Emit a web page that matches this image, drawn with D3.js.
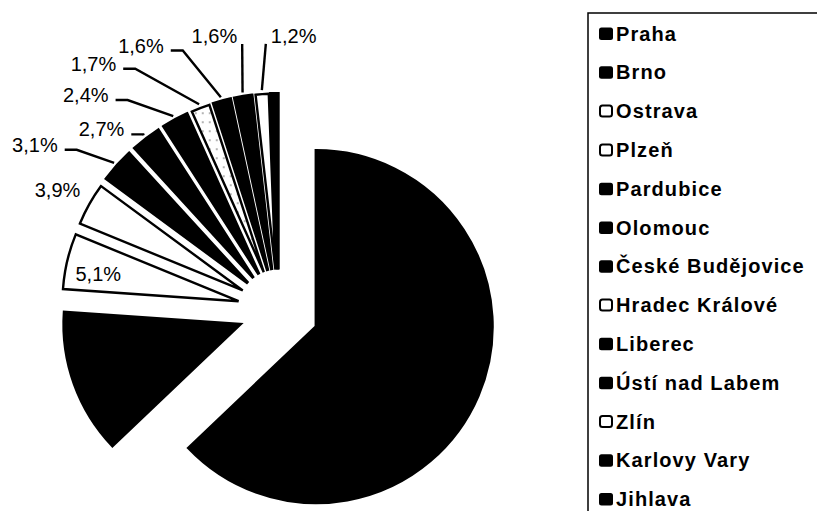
<!DOCTYPE html>
<html>
<head>
<meta charset="utf-8">
<script src="https://cdn.jsdelivr.net/npm/d3@7"></script>
<style>
  body { margin: 0; background: #fff; }
  svg { display: block; }
</style>
</head>
<body>
<svg id="chart"></svg>
<script>
// data (shares in %)
const cities = ["Praha", "Brno", "Ostrava", "Plzeň", "Pardubice", "Olomouc", "České Budějovice",
  "Hradec Králové", "Liberec", "Ústí nad Labem", "Zlín", "Karlovy Vary", "Jihlava"];
const shares = [62.9, 13.2, 5.1, 3.9, 3.1, 2.7, 2.4, 1.7, 1.6, 1.6, 1.2, 0.3, 0.3];
const fills = ["black", "black", "white", "white", "black", "black", "black",
  "dots", "black", "black", "white", "black", "black"];
const labelTexts = ["", "", "5,1%", "3,9%", "3,1%", "2,7%", "2,4%", "1,7%", "1,6%", "1,6%", "1,2%", "", ""];

// where the data labels sit, relative to each slice (angle shift in degrees, distance from centre)
const labelLayout = {
  "Ostrava": { type: "inside", dA: -2, R: 143 },
  "Plzeň": { type: "plain", dA: 0, R: 217 },
  "Pardubice": { type: "left", dA: -3.4, R: 258 },
  "Olomouc": { type: "left", dA: 0.1, R: 222 },
  "České Budějovice": { type: "left", dA: -7.2, R: 259 },
  "Hradec Králové": { type: "left", dA: -9.6, R: 281 },
  "Liberec": { type: "left", dA: -5.1, R: 277 },
  "Ústí nad Labem": { type: "upLeft", dA: 1.6, R: 269 },
  "Zlín": { type: "upRight", dA: 1.6, R: 267 }
};

const width = 817, height = 511;
const cx = 278.5, cy = 310.5, radius = 176, explode = 41;

const svg = d3.select("#chart").attr("width", width).attr("height", height);

const data = cities.map((c, i) => ({ city: c, value: shares[i], fill: fills[i], label: labelTexts[i] }));

const pie = d3.pie().value(d => d.value).sort(null);
const arc = d3.arc().innerRadius(0).outerRadius(radius);
const arcs = pie(data);

const dir = a => [Math.sin(a), -Math.cos(a)];
const mid = d => (d.startAngle + d.endAngle) / 2;
const toRad = deg => deg * Math.PI / 180;

// speckled fill for Hradec Králové
const defs = svg.append("defs");
const pat = defs.append("pattern").attr("id", "dots")
  .attr("patternUnits", "userSpaceOnUse").attr("width", 7).attr("height", 9);
pat.append("rect").attr("width", 7).attr("height", 9).attr("fill", "white");
pat.append("circle").attr("cx", 2).attr("cy", 3).attr("r", 0.8).attr("fill", "#555");
const fillOf = f => f === "dots" ? "url(#dots)" : f;

const g = svg.append("g").attr("transform", `translate(${cx},${cy})`);

// exploded slices
g.selectAll("path.slice")
  .data(arcs)
  .enter()
  .append("path")
  .attr("class", "slice")
  .attr("transform", d => {
    const [ux, uy] = dir(mid(d));
    return `translate(${ux * explode},${uy * explode})`;
  })
  .attr("d", arc)
  .attr("fill", d => fillOf(d.data.fill))
  .attr("stroke", "black")
  .attr("stroke-width", d => d.data.fill === "black" ? 3.2 : 2.4);

// data labels + leader lines
const labels = g.append("g")
  .attr("font-family", "'Liberation Sans', Arial, sans-serif")
  .attr("font-size", 20)
  .attr("fill", "black");

arcs.filter(d => d.data.label).forEach(d => {
  const L = labelLayout[d.data.city];
  const m = mid(d);

  if (L.type === "inside") {
    const [ox, oy] = dir(m).map(v => v * explode);
    const [lx, ly] = dir(m + toRad(L.dA)).map(v => v * L.R);
    labels.append("text")
      .attr("x", ox + lx).attr("y", oy + ly)
      .attr("dy", "0.35em")
      .attr("text-anchor", "middle")
      .text(d.data.label);
    return;
  }

  const [ex, ey] = dir(m + toRad(L.dA)).map(v => v * L.R);
  const [sx, sy] = dir(m).map(v => v * (explode + radius + 4));

  if (L.type === "plain") {
    labels.append("text").attr("x", ex - 9).attr("y", ey - 7)
      .attr("text-anchor", "end").text(d.data.label);
  } else if (L.type === "left") {
    labels.append("polyline")
      .attr("points", [[ex - 12, ey], [ex, ey], [sx, sy]].join(" "))
      .attr("fill", "none").attr("stroke", "black").attr("stroke-width", 2.4);
    labels.append("text").attr("x", ex - 19).attr("y", ey + 2)
      .attr("text-anchor", "end").text(d.data.label);
  } else {
    labels.append("line")
      .attr("x1", ex).attr("y1", ey).attr("x2", sx).attr("y2", sy)
      .attr("stroke", "black").attr("stroke-width", 2.4);
    labels.append("text")
      .attr("x", L.type === "upLeft" ? ex - 5 : ex + 5)
      .attr("y", ey - 1)
      .attr("text-anchor", L.type === "upLeft" ? "end" : "start")
      .text(d.data.label);
  }
});

// legend
const legend = svg.append("g");
legend.append("rect")
  .attr("x", 588).attr("y", 13).attr("width", 260).attr("height", 520)
  .attr("fill", "none").attr("stroke", "black").attr("stroke-width", 1.5);

const ly = d3.scalePoint().domain(cities).range([33.5, 499]);

const items = legend.selectAll("g.item")
  .data(data)
  .enter()
  .append("g")
  .attr("class", "item")
  .attr("transform", d => `translate(0,${ly(d.city)})`);

items.append("rect")
  .attr("x", d => d.fill === "black" ? 599 : 600)
  .attr("y", d => d.fill === "black" ? -6 : -5.5)
  .attr("width", d => d.fill === "black" ? 14 : 12)
  .attr("height", d => d.fill === "black" ? 12.5 : 11)
  .attr("rx", 2.5)
  .attr("fill", d => d.fill === "black" ? "black" : "white")
  .attr("stroke", "black")
  .attr("stroke-width", d => d.fill === "black" ? 0 : 2);

items.append("text")
  .attr("x", 616)
  .attr("dy", "0.36em")
  .attr("font-family", "'Liberation Sans', Arial, sans-serif")
  .attr("font-weight", "bold")
  .attr("font-size", 20)
  .attr("letter-spacing", 1.1)
  .text(d => d.city);
</script>
</body>
</html>
